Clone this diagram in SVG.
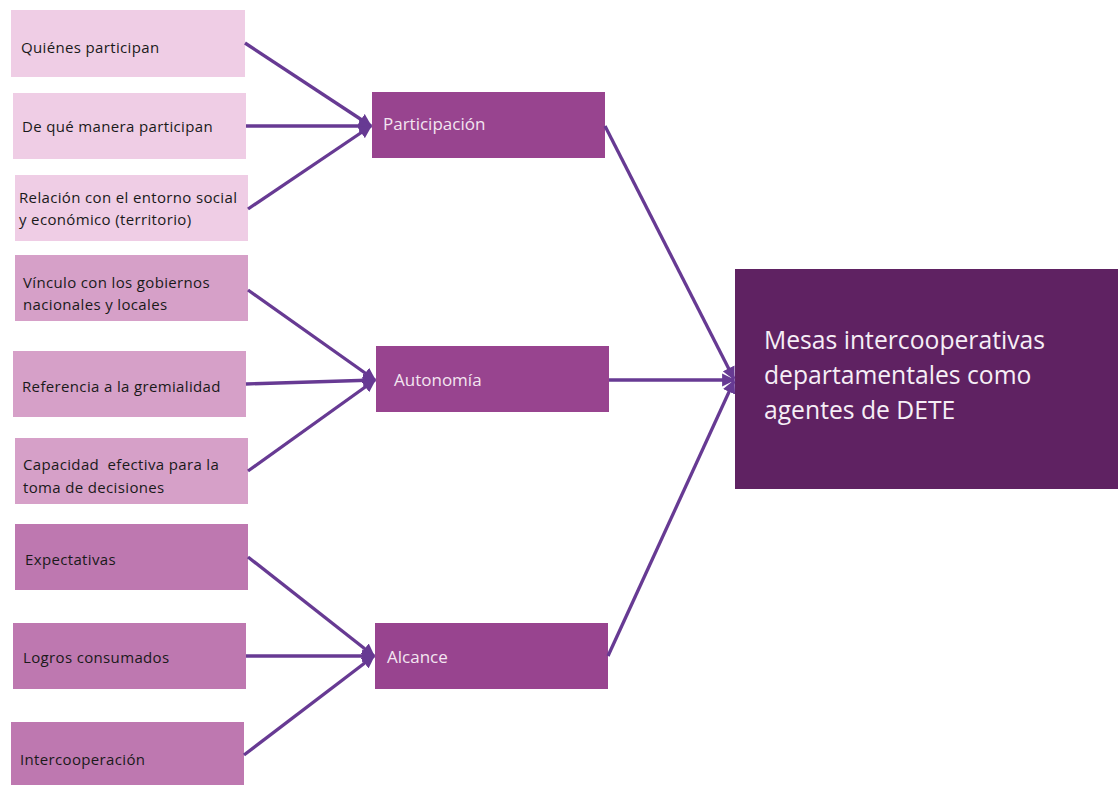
<svg xmlns="http://www.w3.org/2000/svg" width="1118" height="785" viewBox="0 0 1118 785">
<style>
.t{font-family:"Open Sans","Noto Sans",sans-serif;font-size:15px;fill:#1a1a1a;letter-spacing:0.35px}
.m{font-family:"Open Sans","Noto Sans",sans-serif;font-size:17px;fill:#f3e6f1}
.b{font-family:"Open Sans","Noto Sans",sans-serif;font-size:24.7px;fill:#f6eef6}
.c1{fill:#efcde5}.c2{fill:#d6a0c8}.c3{fill:#be78b0}.cm{fill:#98448f}.cb{fill:#5f2262}
.e{stroke:#673a93;stroke-width:3.3;fill:none;marker-end:url(#ah)}
</style>
<defs>
<marker id="ah" viewBox="0 0 10 10" refX="9" refY="5" markerWidth="4" markerHeight="4" orient="auto" markerUnits="strokeWidth">
<path d="M0,0 L10,5 L0,10 z" fill="#673a93"/>
</marker>
</defs>
<rect width="1118" height="785" fill="#ffffff"/>
<g id="n1"><rect class="c1" x="11" y="10" width="234" height="67"/><text class="t" x="21" y="53">Quiénes participan</text></g>
<g id="n2"><rect class="c1" x="13" y="93" width="233" height="66"/><text class="t" x="22" y="132">De qué manera participan</text></g>
<g id="n3"><rect class="c1" x="15" y="175" width="233" height="66"/><text class="t" x="19" y="203">Relación con el entorno social</text><text class="t" x="19" y="225">y económico (territorio)</text></g>
<g id="n4"><rect class="c2" x="15" y="255" width="233" height="66"/><text class="t" x="23" y="288">Vínculo con los gobiernos</text><text class="t" x="23" y="310">nacionales y locales</text></g>
<g id="n5"><rect class="c2" x="13" y="351" width="233" height="66"/><text class="t" x="22" y="392">Referencia a la gremialidad</text></g>
<g id="n6"><rect class="c2" x="15" y="438" width="233" height="66"/><text class="t" x="23" y="470" xml:space="preserve">Capacidad  efectiva para la</text><text class="t" x="23" y="493">toma de decisiones</text></g>
<g id="n7"><rect class="c3" x="15" y="524" width="233" height="66"/><text class="t" x="25" y="565">Expectativas</text></g>
<g id="n8"><rect class="c3" x="13" y="623" width="233" height="66"/><text class="t" x="23" y="663">Logros consumados</text></g>
<g id="n9"><rect class="c3" x="11" y="722" width="233" height="63"/><text class="t" x="20" y="765">Intercooperación</text></g>
<g id="participacion"><rect class="cm" x="372" y="92" width="233" height="66"/><text class="m" x="383" y="130">Participación</text></g>
<g id="autonomia"><rect class="cm" x="376" y="346" width="233" height="66"/><text class="m" x="394" y="386">Autonomía</text></g>
<g id="alcance"><rect class="cm" x="375" y="623" width="233" height="66"/><text class="m" x="387" y="663">Alcance</text></g>
<g id="mesas"><rect class="cb" x="735" y="269" width="383" height="220"/><text class="b" x="764" y="349">Mesas intercooperativas</text><text class="b" x="764" y="384">departamentales como</text><text class="b" x="764" y="419">agentes de DETE</text></g>
<g id="connectors">
<line class="e" x1="245" y1="43" x2="371" y2="126"/>
<line class="e" x1="246" y1="126" x2="371" y2="126"/>
<line class="e" x1="248" y1="209" x2="371" y2="126"/>
<line class="e" x1="248" y1="290" x2="375" y2="380"/>
<line class="e" x1="246" y1="384" x2="375" y2="380"/>
<line class="e" x1="248" y1="471" x2="375" y2="380"/>
<line class="e" x1="248" y1="557" x2="374" y2="656"/>
<line class="e" x1="246" y1="656" x2="374" y2="656"/>
<line class="e" x1="244" y1="755" x2="374" y2="656"/>
<line class="e" x1="605" y1="126" x2="734" y2="379"/>
<line class="e" x1="609" y1="380" x2="734" y2="380"/>
<line class="e" x1="608" y1="656" x2="734" y2="381"/>
</g>
</svg>
